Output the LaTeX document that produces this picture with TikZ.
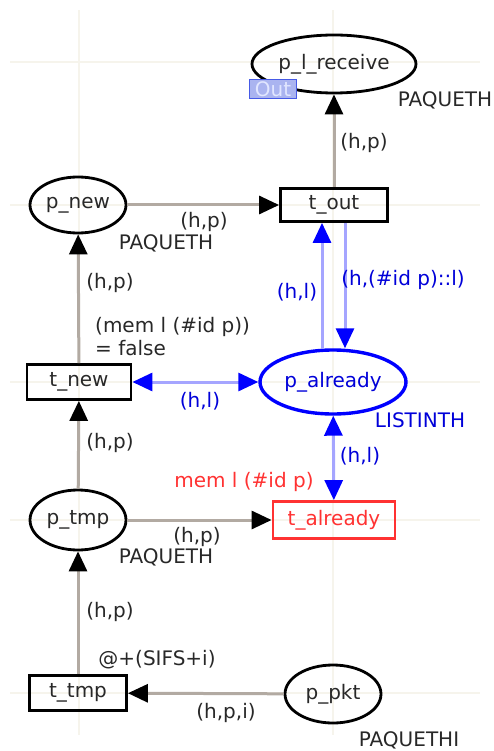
\documentclass[tikz,border=0pt]{standalone}
\usepackage{fontspec}
\setmainfont{DejaVu Sans}
\usetikzlibrary{shapes.geometric,arrows.meta}
\definecolor{arcgray}{RGB}{178,170,162}
\definecolor{arcblue}{RGB}{165,165,255}
\definecolor{txtgray}{RGB}{40,40,40}
\definecolor{gridc}{RGB}{246,244,236}
\definecolor{tagfill}{RGB}{170,180,240}
\definecolor{tagdraw}{RGB}{70,90,230}
\definecolor{tagtext}{RGB}{225,230,255}
\definecolor{redc}{RGB}{255,50,50}
\begin{document}
\begin{tikzpicture}[x=1pt,y=-1pt,
  every node/.style={font=\fontsize{20}{23}\selectfont, text=txtgray},
  place/.style={ellipse, draw=black, line width=2.8pt, inner sep=0pt},
  trans/.style={rectangle, draw=black, line width=2.8pt, inner sep=0pt},
  arc/.style={draw=arcgray, line width=3pt, -{Triangle[length=20pt,width=18pt,color=black]}},
  barc/.style={draw=arcblue, line width=3pt, -{Triangle[length=20pt,width=18pt,color=blue]}},
  bbarc/.style={draw=arcblue, line width=3pt, {Triangle[length=20pt,width=18pt,color=blue]}-{Triangle[length=20pt,width=18pt,color=blue]}},
  lbl/.style={inner sep=0pt},
  blbl/.style={inner sep=0pt, text=blue!85!black},
]
\useasboundingbox (0,0) rectangle (493,751);
% faint grid
\foreach \yy in {62,205,382,520,693} \draw[gridc, line width=1.5pt] (10,\yy) -- (480,\yy);
\foreach \xx in {79,333} \draw[gridc, line width=1.5pt] (\xx,10) -- (\xx,735);

% places
\node[place, minimum width=164pt, minimum height=58pt] (plr) at (334,64) {p\_l\_receive};
\node[place, minimum width=96pt, minimum height=56pt] (pnew) at (78,205) {p\_new};
\node[place, draw=blue, line width=3.4pt, minimum width=146pt, minimum height=64pt, text=blue!85!black] (palr) at (333,382) {p\_already};
\node[place, minimum width=96pt, minimum height=60pt] (ptmp) at (78,520) {p\_tmp};
\node[place, minimum width=96pt, minimum height=58pt] (ppkt) at (333,694) {p\_pkt};

% transitions
\node[trans, minimum width=107pt, minimum height=33pt] (tout) at (334,205) {t\_out};
\node[trans, minimum width=104pt, minimum height=35pt] (tnew) at (79,382) {t\_new};
\node[trans, draw=redc, minimum width=122pt, minimum height=37pt, text=redc] (talr) at (334,520) {t\_already};
\node[trans, minimum width=97pt, minimum height=35pt] (ttmp) at (78,693) {t\_tmp};

% port tag
\node[rectangle, draw=tagdraw, fill=tagfill, line width=1.2pt, inner sep=1pt, minimum width=47pt, minimum height=19pt, text=tagtext] (out) at (273,89) {Out};

% arcs
\draw[arc] (tout) -- (plr);
\draw[arc] (pnew) -- (tout);
\draw[arc] (tnew) -- (pnew);
\draw[arc] (ptmp) -- (tnew);
\draw[arc] (ptmp) -- (talr);
\draw[arc] (ttmp) -- (ptmp);
\draw[arc] (ppkt) -- (ttmp);
\draw[barc] ([xshift=-11pt]palr.north) -- ([xshift=-12pt]tout.south);
\draw[barc] ([xshift=11pt]tout.south) -- ([xshift=12pt]palr.north);
\draw[bbarc] (tnew) -- (palr);
\draw[bbarc] (palr) -- (talr);

% labels
\node[lbl] (l1) at (445,100) {PAQUETH};
\node[lbl] (l2) at (364,143) {(h,p)};
\node[lbl] (l3) at (204,222) {(h,p)};
\node[lbl] (l4) at (166,243) {PAQUETH};
\node[lbl] (l5) at (110,283) {(h,p)};
\node[lbl, align=left, anchor=west] (l6) at (95,337) {(mem l (\#id p))\\= false};
\node[blbl] (l7) at (297,292) {(h,l)};
\node[blbl] (l8) at (403,280) {(h,(\#id p)::l)};
\node[blbl] (l9) at (200,401) {(h,l)};
\node[blbl] (l10) at (420,420) {LISTINTH};
\node[lbl] (l11) at (110,443) {(h,p)};
\node[blbl] (l12) at (360,456) {(h,l)};
\node[lbl, text=redc] (l13) at (244,482) {mem l (\#id p)};
\node[lbl] (l14) at (197,537) {(h,p)};
\node[lbl] (l15) at (166,557) {PAQUETH};
\node[lbl] (l16) at (110,612) {(h,p)};
\node[lbl] (l17) at (157,660) {@+(SIFS+i)};
\node[lbl] (l18) at (226,713) {(h,p,i)};
\node[lbl] (l19) at (409,740) {PAQUETHI};
\end{tikzpicture}
\end{document}
